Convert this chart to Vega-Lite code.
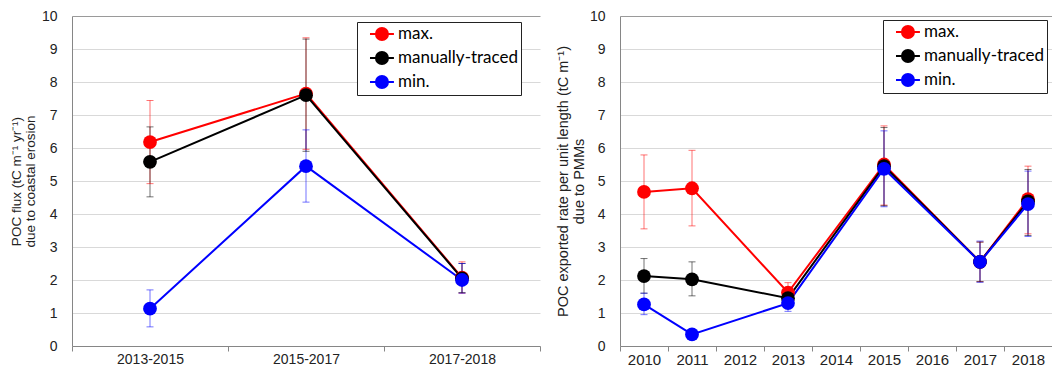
{
  "$schema": "https://vega.github.io/schema/vega-lite/v6.json",
  "autosize": {"type": "pad"},
  "padding": {"left": 9, "top": 9, "right": 0, "bottom": 0},
  "background": "white",
  "config": {
    "view": {"stroke": null},
    "axis": {
      "labelFont": "Liberation Sans",
      "labelFontSize": 14,
      "labelColor": "#222222",
      "titleFont": "Liberation Sans",
      "titleFontSize": 12,
      "titleFontWeight": "normal",
      "titleColor": "#222222",
      "domainColor": "#868686",
      "tickColor": "#868686",
      "gridColor": "#d9d9d9"
    },
    "legend": {
      "orient": "none",
      "title": null,
      "symbolType": "M0.11,0L2.77,0M2.11,0A0.67,0.67,0,1,1,0.77,0A0.67,0.67,0,1,1,2.11,0Z",
      "symbolSize": 324,
      "symbolStrokeWidth": 2,
      "symbolOpacity": 1,
      "labelFont": "Lato",
      "labelFontSize": 17,
      "labelColor": "black",
      "padding": 2,
      "rowPadding": 2,
      "labelOffset": 19,
      "strokeColor": "#222222",
      "fillColor": "white"
    }
  },
  "datasets": {
    "left": [
      {"period": "2013-2015", "series": "max.", "value": 6.18, "lo": 4.92, "hi": 7.44},
      {"period": "2015-2017", "series": "max.", "value": 7.65, "lo": 5.96, "hi": 9.34},
      {"period": "2017-2018", "series": "max.", "value": 2.07, "lo": 1.6, "hi": 2.55},
      {"period": "2013-2015", "series": "manually-traced", "value": 5.58, "lo": 4.52, "hi": 6.64},
      {"period": "2015-2017", "series": "manually-traced", "value": 7.6, "lo": 5.9, "hi": 9.3},
      {"period": "2017-2018", "series": "manually-traced", "value": 2.05, "lo": 1.62, "hi": 2.5},
      {"period": "2013-2015", "series": "min.", "value": 1.13, "lo": 0.58, "hi": 1.7},
      {"period": "2015-2017", "series": "min.", "value": 5.45, "lo": 4.36, "hi": 6.55},
      {"period": "2017-2018", "series": "min.", "value": 2.0, "lo": 1.6, "hi": 2.5}
    ],
    "right": [
      {"year": 2010, "series": "max.", "value": 4.67, "lo": 3.55, "hi": 5.79},
      {"year": 2011, "series": "max.", "value": 4.78, "lo": 3.64, "hi": 5.93},
      {"year": 2013, "series": "max.", "value": 1.62, "lo": 1.32, "hi": 1.92},
      {"year": 2015, "series": "max.", "value": 5.5, "lo": 4.27, "hi": 6.67},
      {"year": 2017, "series": "max.", "value": 2.55, "lo": 1.95, "hi": 3.15},
      {"year": 2018, "series": "max.", "value": 4.45, "lo": 3.4, "hi": 5.45},
      {"year": 2010, "series": "manually-traced", "value": 2.12, "lo": 1.6, "hi": 2.65},
      {"year": 2011, "series": "manually-traced", "value": 2.02, "lo": 1.52, "hi": 2.55},
      {"year": 2013, "series": "manually-traced", "value": 1.45, "lo": 1.2, "hi": 1.7},
      {"year": 2015, "series": "manually-traced", "value": 5.45, "lo": 4.25, "hi": 6.62},
      {"year": 2017, "series": "manually-traced", "value": 2.55, "lo": 1.95, "hi": 3.15},
      {"year": 2018, "series": "manually-traced", "value": 4.38, "lo": 3.35, "hi": 5.35},
      {"year": 2010, "series": "min.", "value": 1.26, "lo": 0.95, "hi": 1.6},
      {"year": 2011, "series": "min.", "value": 0.35, "lo": 0.3, "hi": 0.4},
      {"year": 2013, "series": "min.", "value": 1.3, "lo": 1.05, "hi": 1.55},
      {"year": 2015, "series": "min.", "value": 5.37, "lo": 4.22, "hi": 6.52},
      {"year": 2017, "series": "min.", "value": 2.55, "lo": 1.93, "hi": 3.18},
      {"year": 2018, "series": "min.", "value": 4.3, "lo": 3.32, "hi": 5.3}
    ]
  },
  "bounds": "flush",
  "spacing": 80,
  "resolve": {"scale": {"color": "independent"}, "legend": {"color": "independent"}},
  "hconcat": [
    {
      "width": 468,
      "height": 330,
      "data": {"name": "left"},
      "encoding": {
        "x": {
          "field": "period", "type": "ordinal",
          "scale": {"domain": ["2013-2015", "2015-2017", "2017-2018"], "paddingInner": 0, "paddingOuter": 0},
          "axis": {"title": null, "labelAngle": 0, "tickBand": "extent", "tickSize": 5, "labelPadding": 1, "grid": false}
        },
        "y": {
          "field": "value", "type": "quantitative",
          "scale": {"domain": [0, 10], "nice": false},
          "axis": {
            "title": ["POC flux  (tC m⁻¹ yr⁻¹)", "due to coastal erosion"],
            "titleFontSize": 13.5,
            "titleLineHeight": 13.5,
            "titlePadding": 4,
            "values": [0, 1, 2, 3, 4, 5, 6, 7, 8, 9, 10],
            "ticks": false,
            "labelPadding": 15,
            "grid": true,
            "gridColor": {"condition": {"test": "datum.value === 10", "value": "#9a9a9a"}, "value": "#d9d9d9"}
          }
        },
        "color": {
          "field": "series", "type": "nominal",
          "scale": {"domain": ["max.", "manually-traced", "min."], "range": ["#ff0000", "#000000", "#0000ff"]},
          "legend": {"legendX": 285, "legendY": 6, "symbolOpacity": 1}
        }
      },
      "layer": [
        {"mark": {"type": "rule", "strokeWidth": 1, "opacity": 0.55},
         "encoding": {"y": {"field": "lo", "type": "quantitative"}, "y2": {"field": "hi"}}},
        {"mark": {"type": "tick", "size": 7, "thickness": 1, "opacity": 0.55},
         "encoding": {"y": {"field": "lo", "type": "quantitative"}}},
        {"mark": {"type": "tick", "size": 7, "thickness": 1, "opacity": 0.55},
         "encoding": {"y": {"field": "hi", "type": "quantitative"}}},
        {"mark": {"type": "line", "strokeWidth": 2}},
        {"mark": {"type": "point", "filled": true, "size": 190, "opacity": 1}}
      ]
    },
    {
      "width": 432,
      "height": 330,
      "data": {"name": "right"},
      "encoding": {
        "x": {
          "field": "year", "type": "ordinal",
          "scale": {"domain": [2010, 2011, 2012, 2013, 2014, 2015, 2016, 2017, 2018], "paddingInner": 0, "paddingOuter": 0},
          "axis": {"title": null, "labelAngle": 0, "tickBand": "extent", "tickSize": 5, "labelPadding": 1, "grid": false, "labelFontSize": 15}
        },
        "y": {
          "field": "value", "type": "quantitative",
          "scale": {"domain": [0, 10], "nice": false},
          "axis": {
            "title": ["POC exported rate per unit length (tC m⁻¹)", "due to PMMs"],
            "titleFontSize": 14.5,
            "titleLineHeight": 16,
            "titlePadding": 3,
            "values": [0, 1, 2, 3, 4, 5, 6, 7, 8, 9, 10],
            "ticks": false,
            "labelPadding": 15,
            "grid": true,
            "gridColor": {"condition": {"test": "datum.value === 10", "value": "#9a9a9a"}, "value": "#d9d9d9"}
          }
        },
        "color": {
          "field": "series", "type": "nominal",
          "scale": {"domain": ["max.", "manually-traced", "min."], "range": ["#ff0000", "#000000", "#0000ff"]},
          "legend": {"legendX": 263, "legendY": 4, "symbolOpacity": 1}
        }
      },
      "layer": [
        {"mark": {"type": "rule", "strokeWidth": 1, "opacity": 0.55},
         "encoding": {"y": {"field": "lo", "type": "quantitative"}, "y2": {"field": "hi"}}},
        {"mark": {"type": "tick", "size": 7, "thickness": 1, "opacity": 0.55},
         "encoding": {"y": {"field": "lo", "type": "quantitative"}}},
        {"mark": {"type": "tick", "size": 7, "thickness": 1, "opacity": 0.55},
         "encoding": {"y": {"field": "hi", "type": "quantitative"}}},
        {"mark": {"type": "line", "strokeWidth": 2}},
        {"mark": {"type": "point", "filled": true, "size": 190, "opacity": 1}}
      ]
    }
  ]
}
